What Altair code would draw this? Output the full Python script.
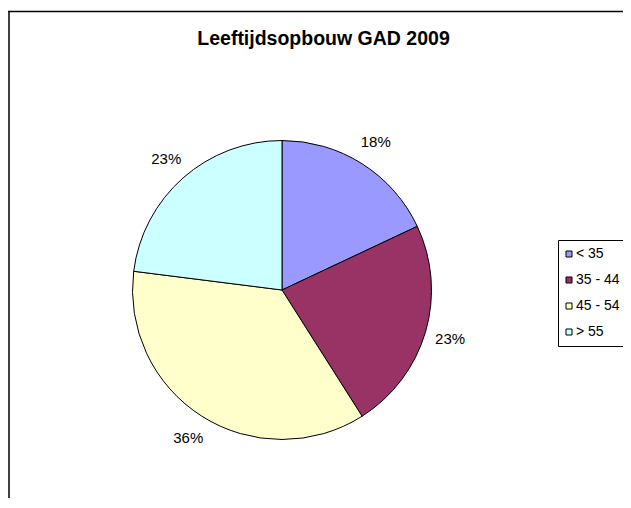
import altair as alt
import pandas as pd

# ---- data ----
groups = ["< 35", "35 - 44", "45 - 54", "> 55"]
values = [18, 23, 36, 23]
colors = ["#9999FF", "#993366", "#FFFFCC", "#CCFFFF"]
title_text = "Leeftijdsopbouw GAD 2009"

df = pd.DataFrame({
    "group": groups,
    "value": values,
    "idx": list(range(len(groups))),
    "label": [f"{v}%" for v in values],
})

W, H = 615, 490
CX, CY = 274, 282
R = 149.5
FONT = "Liberation Sans"

color = alt.Color(
    "group:N",
    scale=alt.Scale(domain=groups, range=colors),
    sort=groups,
    title=None,
    legend=alt.Legend(
        orient="none", legendX=550, legendY=232,
        strokeColor="black", fillColor="white", padding=7, cornerRadius=0,
        symbolType="square", symbolSize=36, symbolStrokeColor="black",
        symbolStrokeWidth=1, symbolOpacity=1, symbolOffset=-3,
        labelFont=FONT, labelFontSize=14, labelColor="black",
        labelOffset=0, rowPadding=12,
    ),
)

base = alt.Chart(df)

pie = base.mark_arc(radius=R, stroke="black", strokeWidth=1).encode(
    theta=alt.Theta("value:Q", stack=True),
    color=color,
    order=alt.Order("idx:Q"),
    x=alt.value(CX),
    y=alt.value(CY),
)

labels = base.mark_text(
    radius=175, font=FONT, fontSize=15, color="black",
    align="center", baseline="middle",
).encode(
    theta=alt.Theta("value:Q", stack=True),
    order=alt.Order("idx:Q"),
    detail="group:N",
    text="label:N",
    x=alt.value(CX),
    y=alt.value(CY),
)

frame_df = pd.DataFrame({"k": [0]})
frame_top = alt.Chart(frame_df).mark_rule(color="black", strokeWidth=1.5).encode(
    x=alt.value(0), x2=alt.value(W), y=alt.value(3.5)
)
frame_left = alt.Chart(frame_df).mark_rule(color="black", strokeWidth=1.5).encode(
    x=alt.value(1), y=alt.value(3), y2=alt.value(H)
)

chart = alt.layer(frame_top, frame_left, pie, labels).properties(
    width=W, height=H,
    autosize=alt.AutoSizeParams(type="none"),
    padding=0,
    background="white",
    title=alt.TitleParams(
        title_text, font=FONT, fontSize=19.5, fontWeight="bold", color="black",
        anchor="middle", frame="group", baseline="alphabetic", offset=-56, dx=8,
    ),
).configure_view(stroke=None)

chart.save("out.html", embed_options={"renderer": "svg", "actions": False})
